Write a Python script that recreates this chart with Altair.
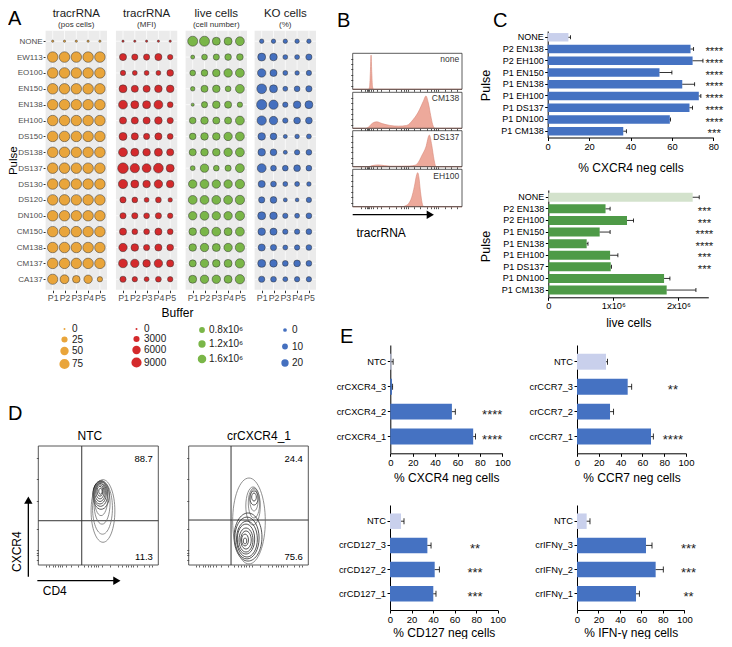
import json
import altair as alt
import pandas as pd

W, H = 716, 631
PAGE_MARGIN = 8
FONT = "Liberation Sans"


def P(v):
    """reference-pixel position -> chart-pixel position (page has an 8px margin)"""
    return v - PAGE_MARGIN


# ============================ DATA ============================
# ---- Panel A : dot plots (rows = pulse, columns = buffer)
PULSES_A = ["NONE", "EW113", "EO100", "EN150", "EN138", "EH100", "DS150", "DS138",
            "DS137", "DS130", "DS120", "DN100", "CM150", "CM138", "CM137", "CA137"]
BUFFERS = ["P1", "P2", "P3", "P4", "P5"]
A_TITLES = ["tracrRNA", "tracrRNA", "live cells", "KO cells"]
A_SUBTITLES = ["(pos cells)", "(MFI)", "(cell number)", "(%)"]

TRACR_POS = [
    [0.7, 0.7, 0.7, 0.7, 0.7],
    [80, 81, 80, 80, 81],
    [80, 80, 81, 80, 80],
    [81, 80, 80, 81, 80],
    [80, 81, 80, 80, 81],
    [80, 80, 80, 81, 80],
    [81, 80, 81, 80, 80],
    [80, 80, 80, 80, 81],
    [81, 81, 80, 80, 80],
    [80, 80, 81, 80, 80],
    [80, 81, 80, 81, 80],
    [81, 80, 80, 80, 81],
    [80, 80, 81, 80, 80],
    [80, 81, 80, 81, 80],
    [81, 80, 80, 80, 80],
    [75, 56, 40, 50, 18],
]
TRACR_MFI = [
    [100, 100, 100, 100, 100],
    [4200, 3100, 3100, 4200, 2200],
    [2200, 1800, 1800, 1800, 3600],
    [5400, 4200, 4200, 4800, 4800],
    [6700, 5400, 5400, 6700, 2600],
    [4200, 4200, 4200, 4800, 3100],
    [5400, 4200, 3100, 4200, 2600],
    [6700, 5400, 4800, 5400, 4200],
    [9800, 7400, 6700, 8200, 5400],
    [7400, 5400, 4800, 6000, 4800],
    [3100, 2600, 1800, 2600, 1400],
    [3100, 3100, 2600, 3100, 2200],
    [4200, 2600, 2600, 4200, 2600],
    [6000, 4800, 3100, 4200, 3600],
    [6700, 6000, 4800, 6000, 4200],
    [3100, 2200, 1800, 2600, 2200],
]
LIVE_CELLS_M = [  # x10^6 cells
    [2.19, 2.19, 1.43, 1.43, 1.74],
    [0.43, 0.79, 0.90, 1.02, 1.02],
    [0.79, 1.02, 1.29, 1.58, 1.74],
    [0.51, 1.15, 1.29, 0.79, 1.74],
    [0.30, 0.90, 1.29, 1.15, 0.69],
    [1.02, 1.29, 1.15, 1.15, 1.74],
    [1.02, 1.29, 1.29, 1.58, 1.74],
    [1.15, 1.29, 1.29, 1.58, 1.74],
    [0.60, 1.58, 0.79, 0.90, 1.74],
    [1.58, 1.74, 1.58, 1.58, 1.91],
    [1.74, 1.74, 1.74, 1.74, 1.91],
    [1.58, 1.74, 1.58, 1.58, 1.91],
    [1.29, 1.74, 1.74, 1.43, 1.74],
    [1.29, 1.58, 1.43, 1.58, 1.91],
    [1.15, 1.58, 1.29, 1.43, 1.91],
    [1.43, 1.58, 1.58, 1.43, 1.91],
]
KO_CELLS = [
    [2.5, 2.5, 2.5, 2.5, 2.5],
    [25, 21.5, 5, 5, 12.5],
    [28.5, 18.5, 5, 3, 7],
    [41, 25, 5, 9.5, 12.5],
    [45.5, 36.5, 7, 21.5, 25],
    [36.5, 28.5, 7, 15.5, 15.5],
    [21.5, 15.5, 1, 3, 5],
    [21.5, 15.5, 1, 7, 9.5],
    [32.5, 9.5, 9.5, 15.5, 9.5],
    [18.5, 9.5, 5, 5, 3],
    [12.5, 15.5, 1, 0, 7],
    [25, 21.5, 7, 5, 9.5],
    [21.5, 18.5, 7, 7, 9.5],
    [18.5, 12.5, 5, 7, 9.5],
    [25, 21.5, 9.5, 15.5, 9.5],
    [12.5, 9.5, 5, 7, 7],
]
LEG_POS = [0, 25, 50, 75]
LEG_MFI = [0, 3000, 6000, 9000]
LEG_LIVE_M = [0.8, 1.2, 1.6]
LEG_KO = [0, 10, 20]

# ---- Panel B : tracrRNA histograms (channel position 0-100, relative count 0-100)
B_SAMPLES = ["none", "CM138", "DS137", "EH100"]
B_CHANNEL = [
    [0, 14.5, 15.5, 16.2, 16.8, 17.4, 18.1, 19, 100],
    [0, 12, 14.3, 18, 22, 27, 34, 42, 49.4, 55.5, 60, 64.6, 67, 69.2, 71.4, 73.2, 75.3, 100],
    [0, 14, 18, 23.4, 29, 35, 45, 52, 57, 60, 63.1, 67, 70.1, 72.3, 74.4, 76.2, 100],
    [0, 46, 48, 51, 54, 56.5, 58.5, 59.5, 60.5, 62, 63.5, 65, 100],
]
B_COUNT = [
    [0, 0, 8, 50, 95, 50, 8, 0, 0],
    [0, 0, 3, 14, 18, 13, 8, 6, 8, 25, 45, 75, 90, 70, 35, 10, 0, 0],
    [0, 0, 3, 5, 3, 1.5, 1.5, 2, 4, 12, 30, 55, 88, 60, 20, 0, 0],
    [0, 0, 2, 8, 25, 55, 85, 91, 80, 40, 10, 0, 0],
]

# ---- Panel C : bar charts
C_PULSES = ["NONE", "P2 EN138", "P2 EH100", "P1 EN150", "P1 EN138",
            "P1 EH100", "P1 DS137", "P1 DN100", "P1 CM138"]
C_KO_MEAN = [10, 69, 70, 54, 65, 73, 68.5, 59, 36.5]
C_KO_SEM = [1, 1.5, 5, 6, 6, 1, 1.5, 0.3, 1.5]
C_KO_SIG = ["", "****", "****", "****", "****", "****", "****", "****", "***"]
C_LIVE_MEAN = [2.22e6, 0.88e6, 1.21e6, 0.79e6, 0.59e6, 0.95e6, 0.96e6, 1.78e6, 1.82e6]
C_LIVE_SEM = [0.1e6, 0.07e6, 0.1e6, 0.16e6, 0.02e6, 0.12e6, 0.01e6, 0.09e6, 0.45e6]
C_LIVE_SIG = ["", "***", "***", "****", "****", "***", "***", "", ""]

# ---- Panel D : flow cytometry contour plots (rings: centre x/y, half-height h)
D_SAMPLES = ["NTC", "crCXCR4_1"]
D_GATE_X = [36.2, 35.4]
D_GATE_Y = [37.2, 37.8]
D_Q_UPPER = ["88.7", "24.4"]
D_Q_LOWER = ["11.3", "75.6"]
D_RING_X = [
    [51.8, 51.4, 51.4, 51.4, 51.4, 51.8, 52.3, 52.3, 53.1, 53.5, 53.9],
    [54.6, 54.6, 54.6, 54.6, 53.8, 47.1, 47.1, 47.9, 47.9, 47.9, 48.7, 48.7, 49.6, 50.4],
]
D_RING_Y = [
    [62.0, 62.0, 61.5, 61.0, 60.5, 59.8, 58.8, 56.3, 52.1, 47.9, 45.4],
    [57.1, 56.3, 54.6, 52.1, 49.6, 20.2, 21.0, 21.0, 21.0, 21.8, 21.8, 22.7, 23.5, 37.0],
]
D_RING_H = [
    [2.5, 4.2, 5.9, 7.6, 9.2, 10.5, 12.0, 14.8, 17.8, 22.0, 26.3],
    [3.4, 5.9, 9.2, 12.6, 16.0, 2.5, 5.0, 7.6, 10.1, 12.6, 15.1, 17.6, 20.2, 36.1],
]
D_RING_FORM = [
    ["core"] * 7 + ["tail"] * 4,
    ["core", "core", "tail", "tail", "tail"] + ["core"] * 8 + ["tail"],
]

# ---- Panel E : knock-out efficiency bar charts
E_GUIDES = [
    ["NTC", "crCXCR4_3", "crCXCR4_2", "crCXCR4_1"],
    ["NTC", "crCCR7_3", "crCCR7_2", "crCCR7_1"],
    ["NTC", "crCD127_3", "crCD127_2", "crCD127_1"],
    ["NTC", "crIFNγ_3", "crIFNγ_2", "crIFNγ_1"],
]
E_MEAN = [[1.0, 1.5, 55, 74], [26.6, 46.5, 30.3, 67.9], [10.2, 34.7, 41.5, 40.2], [9, 64.3, 73.3, 55]]
E_SEM = [[1.5, 0.6, 3, 2.1], [1.3, 3.7, 3.3, 2.1], [2.8, 3.4, 4.3, 2.5], [3.1, 5.6, 7.1, 3.1]]
E_SIG = [["", "", "****", "****"], ["", "**", "", "****"], ["", "**", "***", "***"], ["", "***", "***", "**"]]
E_TITLES = ["% CXCR4 neg cells", "% CCR7 neg cells", "% CD127 neg cells", "% IFN-γ neg cells"]

# ============================ LAYOUT / STYLE ============================
BLUE, LAVENDER = "#4572C2", "#C9D0EC"
GREEN, LIGHTGREEN = "#4E9A47", "#D3E2CC"
A_FILL = ["#E9A53B", "#D42A2C", "#7AB648", "#4570BF"]
A_SIZE_DOMAIN = [[0, 75], [0, 9000], [0.1, 2.4], [0, 50]]
A_SIZE_RANGE = [[4, 104], [4, 104], [0, 110], [14, 113]]
A_LEG_VALUES = [LEG_POS, LEG_MFI, LEG_LIVE_M, LEG_KO]
A_LEG_X = [59, 131, 197, 280]
A_LEG_Y = [324, 324, 325, 325]
A_LEG_ROWPAD = [0.5, 0, 4, 6.5]
A_P1_X = [52.7, 123.0, 192.7, 261.7]
A_STEP = 11.8
A_ROW0, A_ROWSTEP = 41.2, 15.87
A_PADX, A_PADY = 0.6, 0.66
A_AXIS_Y = 290.2

B_X = (352.7, 462.0)
B_BOX_Y = [(53.3, 89.3), (92.3, 128.3), (130.7, 166.7), (169.3, 206.7)]

D_BOX_X = [(38.3, 158.3), (188.7, 308.3)]
D_BOX_Y = (446.0, 565.0)
D_TITLE_X = [43, 58.8]

E_X_PX = [(390.3, 502.3), (577, 686), (390, 497.7), (577, 684.3)]
E_Y_PX = [(345, 453.3), (345, 453.3), (505, 610), (505, 610)]
E_STAR_X = [91, 88, 79, 104]


def ellipse_path(a):
    k = 0.5523
    return (f"M0,-1C{k*a:.3f},-1,{a},-{k},{a},0C{a},{k},{k*a:.3f},1,0,1"
            f"C-{k*a:.3f},1,-{a},{k},-{a},0C-{a},-{k},-{k*a:.3f},-1,0,-1Z")


CORE_PATH = ellipse_path(0.58)
TAIL_PATH = ellipse_path(0.38)


def encoders(xs, ys, xa, ya):
    """x/y encoders that share one scale and one axis definition inside a panel"""
    def ex(field):
        return alt.X(field, scale=xs, axis=xa)

    def ey(field, **kw):
        return alt.Y(field, scale=ys, axis=ya, **kw)
    return ex, ey


def text_layer(df, ex, ey, **mark):
    return alt.Chart(df).mark_text(**mark).encode(x=ex("x:Q"), y=ey("y:Q"), text="t:N")


panels = []

# ============================ PANEL A ============================
nrow, ncol = len(PULSES_A), len(BUFFERS)
a_xdom = [1 - A_PADX, ncol + A_PADX]
a_ydom = [-A_PADY, nrow - 1 + A_PADY]
a_yrng = [P(A_ROW0 - A_PADY * A_ROWSTEP), P(A_ROW0 + (nrow - 1 + A_PADY) * A_ROWSTEP)]
a_values = [TRACR_POS, TRACR_MFI, LIVE_CELLS_M, KO_CELLS]
pulse_lookup = json.dumps(PULSES_A)
buffer_lookup = json.dumps(BUFFERS)

for i in range(4):
    left = A_P1_X[i] - A_PADX * A_STEP
    xs = alt.Scale(domain=a_xdom, range=[P(left), P(A_P1_X[i] + (ncol - 1 + A_PADX) * A_STEP)],
                   nice=False, zero=False)
    ys = alt.Scale(domain=a_ydom, range=a_yrng, nice=False, zero=False)
    xkw = dict(orient="bottom", offset=P(A_AXIS_Y) - H, values=list(range(1, ncol + 1)),
               labelExpr=f"{buffer_lookup}[datum.value - 1]", tickSize=2.5, tickColor="#333333",
               labelColor="#4D4D4D", labelFontSize=8.8, labelPadding=1, domain=False,
               labelOverlap=False, labelFlush=False)
    if i == 1:
        xkw.update(title="Buffer", titleX=P(177), titleY=22.5, titleBaseline="middle",
                   titleAlign="center", titleFontSize=12, titleFontWeight="normal",
                   titleColor="black")
    else:
        xkw.update(title=None)
    xa = alt.Axis(**xkw)
    if i == 0:
        ya = alt.Axis(orient="left", offset=-P(left), values=list(range(nrow)),
                      labelExpr=f"{pulse_lookup}[datum.value]", tickSize=2.5,
                      tickColor="#333333", labelColor="#4D4D4D", labelFontSize=8.0,
                      labelPadding=1, domain=False, labelOverlap=False, labelFlush=False,
                      title="Pulse", titleFontSize=11.5, titleFontWeight="normal",
                      titleColor="black", titleX=P(13) - P(left),
                      titleY=(a_yrng[0] + a_yrng[1]) / 2, titleAlign="center",
                      titleBaseline="middle", titleAngle=270)
    else:
        ya = None
    ex, ey = encoders(xs, ys, xa, ya)

    frame = pd.DataFrame({"x0": [a_xdom[0]], "x1": [a_xdom[1]], "y0": [a_ydom[0]], "y1": [a_ydom[1]]})
    bg = alt.Chart(frame).mark_rect(color="#EBEBEB").encode(
        x=ex("x0:Q"), x2=alt.X2("x1"), y=ey("y0:Q"), y2=alt.Y2("y1"))

    vg = pd.DataFrame({"col": list(range(1, ncol + 1))})
    vg["y0"], vg["y1"] = a_ydom[0], a_ydom[1]
    vgrid = alt.Chart(vg).mark_rule(color="white", strokeWidth=0.7).encode(
        x=ex("col:Q"), y=ey("y0:Q"), y2=alt.Y2("y1"))
    hg = pd.DataFrame({"row": list(range(nrow))})
    hg["x0"], hg["x1"] = a_xdom[0], a_xdom[1]
    hgrid = alt.Chart(hg).mark_rule(color="white", strokeWidth=0.7).encode(
        y=ey("row:Q"), x=ex("x0:Q"), x2=alt.X2("x1"))

    rows = []
    for r, pulse in enumerate(PULSES_A):
        for b, buf in enumerate(BUFFERS):
            rows.append({"pulse": pulse, "row": r, "buffer": buf, "col": b + 1,
                         "value": a_values[i][r][b]})
    df = pd.DataFrame(rows)

    leg_kw = dict(orient="none", legendX=P(A_LEG_X[i]), legendY=P(A_LEG_Y[i]), title=None,
                  values=A_LEG_VALUES[i], symbolType="circle", symbolFillColor=A_FILL[i],
                  symbolStrokeColor="#333333", symbolStrokeWidth=0.5, symbolOpacity=1,
                  labelFontSize=10, labelColor="#1A1A1A", labelOffset=2,
                  rowPadding=A_LEG_ROWPAD[i])
    if i == 2:
        leg_kw["labelExpr"] = "datum.value + 'x10⁶'"
    else:
        leg_kw["format"] = "d"

    dots = alt.Chart(df).mark_circle(opacity=1, stroke="#333333", strokeWidth=0.5).encode(
        x=ex("col:Q"), y=ey("row:Q"),
        size=alt.Size("value:Q", scale=alt.Scale(domain=A_SIZE_DOMAIN[i], range=A_SIZE_RANGE[i]),
                      legend=alt.Legend(**leg_kw)),
        color=alt.value(A_FILL[i]))

    tdf = pd.DataFrame({"t": [A_TITLES[i]], "x": [(1 + ncol) / 2], "y": [-1.72]})
    sdf = pd.DataFrame({"t": [A_SUBTITLES[i]], "x": [(1 + ncol) / 2], "y": [-1.04]})
    layers = [bg, vgrid, hgrid, dots,
              text_layer(tdf, ex, ey, fontSize=11.5, color="#1A1A1A", baseline="middle"),
              text_layer(sdf, ex, ey, fontSize=8, color="#333333", baseline="middle")]
    if i == 0:
        ldf = pd.DataFrame({"t": ["A"], "x": [-2.79], "y": [-1.42]})
        layers.append(text_layer(ldf, ex, ey, fontSize=20, align="left", baseline="middle"))
    panels.append(alt.layer(*layers))

# ============================ PANEL B ============================
for k, name in enumerate(B_SAMPLES):
    top, bottom = B_BOX_Y[k]
    xs = alt.Scale(domain=[0, 100], range=[P(B_X[0]), P(B_X[1])], nice=False, zero=False)
    ys = alt.Scale(domain=[0, 100], range=[P(bottom), P(top)], nice=False, zero=False)
    xa = alt.Axis(orient="bottom", offset=P(bottom) - H, labels=False, domain=False, tickSize=2,
                  tickColor="#555555", title=None,
                  values=[8, 11, 13, 14, 15, 17, 19, 22, 26, 33, 40, 44, 47, 49, 51, 56, 62, 68,
                          72, 74, 76, 78, 84, 90, 95])
    ya = alt.Axis(orient="left", offset=-P(B_X[0]), labels=False, domain=False, tickSize=2,
                  tickColor="#555555", title=None, values=[10, 25, 40, 55, 70, 85])
    ex, ey = encoders(xs, ys, xa, ya)
    curve = pd.DataFrame({"ch": B_CHANNEL[k], "n": B_COUNT[k]})
    area = alt.Chart(curve).mark_area(interpolate="monotone", color="#EDA99B", stroke="#D9897A",
                                      strokeWidth=0.6, opacity=1).encode(x=ex("ch:Q"), y=ey("n:Q"))
    fr = pd.DataFrame({"x0": [0], "x1": [100], "y0": [0], "y1": [100]})
    box = alt.Chart(fr).mark_rect(fillOpacity=0, stroke="#333333", strokeWidth=0.8).encode(
        x=ex("x0:Q"), x2=alt.X2("x1"), y=ey("y0:Q"), y2=alt.Y2("y1"))
    lab = text_layer(pd.DataFrame({"t": [name], "x": [97.5], "y": [94]}), ex, ey,
                     fontSize=8.5, color="#333333", align="right", baseline="top")
    layers = [area, box, lab]
    if k == 0:
        letters = pd.DataFrame({"t": ["B", "C"], "x": [-14.4, 128.4], "y": [191, 191]})
        layers.append(text_layer(letters, ex, ey, fontSize=20, align="left", baseline="middle"))
    if k == len(B_SAMPLES) - 1:
        arr = pd.DataFrame({"x0": [0], "x1": [68], "y": [-21.4]})
        layers.append(alt.Chart(arr).mark_rule(color="black", strokeWidth=1.3).encode(
            x=ex("x0:Q"), x2=alt.X2("x1"), y=ey("y:Q")))
        head = pd.DataFrame({"x": [71], "y": [-21.4]})
        layers.append(alt.Chart(head).mark_point(shape="triangle-right", filled=True, size=70,
                                                 color="black", opacity=1).encode(
            x=ex("x:Q"), y=ey("y:Q")))
        tl = pd.DataFrame({"t": ["tracrRNA"], "x": [3.5], "y": [-70]})
        layers.append(text_layer(tl, ex, ey, fontSize=12, align="left", baseline="middle"))
    panels.append(alt.layer(*layers))


# ============================ BAR CHART HELPER (C, E) ============================
def bar_panel(cats, vals, errs, sigs, control, x_px, y_px, x_dom, pad_in, pad_out, dark, light,
              x_values, x_title, title_dy, star_x, label_fs, tick_fs, title_fs, star_fs,
              x_label_expr=None, y_title=None, y_title_px=None, cap=5):
    df = pd.DataFrame({"cat": cats, "val": vals, "err": errs, "sig": sigs})
    df["hi"] = df["val"] + df["err"]
    df["sx"] = star_x
    xs = alt.Scale(domain=x_dom, range=[P(x_px[0]), P(x_px[1])], nice=False, zero=False)
    ys = alt.Scale(type="band", domain=cats, range=[P(y_px[0]), P(y_px[1])],
                   paddingInner=pad_in, paddingOuter=pad_out)
    xkw = dict(orient="bottom", offset=P(y_px[1]) - H, values=x_values, tickSize=3,
               labelFontSize=tick_fs, labelPadding=1.5, labelColor="black", tickColor="black",
               domainColor="black", labelFlush=False, labelOverlap=False,
               title=x_title, titleFontSize=title_fs, titleFontWeight="normal", titleColor="black",
               titleX=(P(x_px[0]) + P(x_px[1])) / 2, titleY=title_dy, titleAlign="center",
               titleBaseline="middle")
    if x_label_expr:
        xkw["labelExpr"] = x_label_expr
    ykw = dict(orient="left", offset=-P(x_px[0]), tickSize=3, labelFontSize=label_fs,
               labelPadding=1.5, labelColor="black", tickColor="black", domainColor="black")
    if y_title:
        ykw.update(title=y_title, titleFontSize=12.5, titleFontWeight="normal", titleColor="black",
                   titleX=y_title_px[0] - x_px[0], titleY=P(y_title_px[1]), titleAngle=270,
                   titleAlign="center", titleBaseline="middle")
    else:
        ykw.update(title=None)
    xa, ya = alt.Axis(**xkw), alt.Axis(**ykw)
    ex, ey = encoders(xs, ys, xa, ya)
    bars = alt.Chart(df).mark_bar().encode(
        x=ex("val:Q"), y=ey("cat:N", sort=cats),
        color=alt.condition(f"datum.cat == '{control}'", alt.value(light), alt.value(dark)))
    err = alt.Chart(df).mark_rule(color="black", strokeWidth=0.8).encode(
        x=ex("val:Q"), x2=alt.X2("hi"), y=ey("cat:N", sort=cats))
    caps = alt.Chart(df).mark_tick(color="black", thickness=0.8, size=cap, opacity=1).encode(
        x=ex("hi:Q"), y=ey("cat:N", sort=cats))
    stars = alt.Chart(df[df["sig"] != ""]).mark_text(fontSize=star_fs, baseline="middle", dy=3.2,
                                                      color="#222222").encode(
        x=ex("sx:Q"), y=ey("cat:N", sort=cats), text="sig:N")
    return alt.layer(bars, err, caps, stars)


# ============================ PANEL C ============================
panels.append(bar_panel(C_PULSES, C_KO_MEAN, C_KO_SEM, C_KO_SIG, "NONE",
                        (547.7, 713.3), (31, 137.5), [0, 80], 0.28, 0.175, BLUE, LAVENDER,
                        [0, 20, 40, 60, 80], "% CXCR4 neg cells", 29.5, 80.5, 9, 9.3, 12, 11.5,
                        y_title="Pulse", y_title_px=(485, 85), cap=4))
panels.append(bar_panel(C_PULSES, C_LIVE_MEAN, C_LIVE_SEM, C_LIVE_SIG, "NONE",
                        (548.3, 708.3), (190, 297.3), [0, 2.46e6], 0.22, 0.235, GREEN, LIGHTGREEN,
                        [0, 1e6, 2e6], "live cells", 25, 2.4e6, 9, 9.3, 12, 11.5,
                        x_label_expr="datum.value == 0 ? '0' : format(datum.value / 1e6, 'd') + 'x10⁶'",
                        y_title="Pulse", y_title_px=(485, 246), cap=4))

# ============================ PANEL D ============================
d_h = D_BOX_Y[1] - D_BOX_Y[0]
for k, name in enumerate(D_SAMPLES):
    x0, x1 = D_BOX_X[k]
    xs = alt.Scale(domain=[0, 100], range=[P(x0), P(x1)], nice=False, zero=False)
    ys = alt.Scale(domain=[0, 100], range=[P(D_BOX_Y[1]), P(D_BOX_Y[0])], nice=False, zero=False)
    xa = alt.Axis(orient="bottom", offset=P(D_BOX_Y[1]) - H, labels=False, domain=False, tickSize=2,
                  tickColor="#666666", title=None,
                  values=[6, 9, 12, 14, 16, 18, 20, 23, 27, 33, 38, 41, 44, 46, 48, 50, 53, 60, 66,
                          70, 73, 75, 77, 79, 82, 88, 92, 95])
    ya = alt.Axis(orient="left", offset=-P(x0), labels=False, domain=False, tickSize=2,
                  tickColor="#666666", title=None, values=[4, 8, 10, 13, 30, 54, 72, 90])
    ex, ey = encoders(xs, ys, xa, ya)
    fr = pd.DataFrame({"x0": [0], "x1": [100], "y0": [0], "y1": [100]})
    box = alt.Chart(fr).mark_rect(fillOpacity=0, stroke="#444444", strokeWidth=0.9).encode(
        x=ex("x0:Q"), x2=alt.X2("x1"), y=ey("y0:Q"), y2=alt.Y2("y1"))
    gx = pd.DataFrame({"g": [D_GATE_X[k]], "lo": [0], "hi": [100]})
    gy = pd.DataFrame({"g": [D_GATE_Y[k]], "lo": [0], "hi": [100]})
    vgate = alt.Chart(gx).mark_rule(color="#333333", strokeWidth=1).encode(
        x=ex("g:Q"), y=ey("lo:Q"), y2=alt.Y2("hi"))
    hgate = alt.Chart(gy).mark_rule(color="#333333", strokeWidth=1).encode(
        y=ey("g:Q"), x=ex("lo:Q"), x2=alt.X2("hi"))
    rings = pd.DataFrame({"x": D_RING_X[k], "y": D_RING_Y[k], "h": D_RING_H[k], "form": D_RING_FORM[k]})
    cont = alt.Chart(rings).mark_point(filled=False, opacity=1, strokeWidth=0.75).encode(
        x=ex("x:Q"), y=ey("y:Q"),
        size=alt.Size("h:Q", scale=alt.Scale(type="pow", exponent=2, domain=[0, 100],
                                             range=[0, 4 * d_h * d_h]), legend=None),
        shape=alt.Shape("form:N", scale=alt.Scale(domain=["core", "tail"], range=[CORE_PATH, TAIL_PATH]),
                        legend=None),
        color=alt.Color("form:N", scale=alt.Scale(domain=["core", "tail"], range=["#1E1E1E", "#6A6A6A"]),
                        legend=None))
    qdf = pd.DataFrame({"t": [D_Q_UPPER[k], D_Q_LOWER[k]], "x": [95.5, 95.5], "y": [88.8, 6.5]})
    layers = [box, vgate, hgate, cont,
              text_layer(qdf, ex, ey, fontSize=9.5, align="right", baseline="middle"),
              text_layer(pd.DataFrame({"t": [name], "x": [D_TITLE_X[k]], "y": [108.4]}), ex, ey,
                         fontSize=12, baseline="middle")]
    if k == 0:
        va = pd.DataFrame({"x": [-8.3], "y0": [-9.8], "y1": [52]})
        layers.append(alt.Chart(va).mark_rule(color="black", strokeWidth=1.3).encode(
            x=ex("x:Q"), y=ey("y0:Q"), y2=alt.Y2("y1")))
        layers.append(alt.Chart(pd.DataFrame({"x": [-8.3], "y": [54.5]})).mark_point(
            shape="triangle-up", filled=True, size=70, color="black", opacity=1).encode(
            x=ex("x:Q"), y=ey("y:Q")))
        ha = pd.DataFrame({"y": [-13.2], "x0": [-0.8], "x1": [63]})
        layers.append(alt.Chart(ha).mark_rule(color="black", strokeWidth=1.3).encode(
            y=ey("y:Q"), x=ex("x0:Q"), x2=alt.X2("x1")))
        layers.append(alt.Chart(pd.DataFrame({"x": [65.5], "y": [-13.2]})).mark_point(
            shape="triangle-right", filled=True, size=70, color="black", opacity=1).encode(
            x=ex("x:Q"), y=ey("y:Q")))
        layers.append(text_layer(pd.DataFrame({"t": ["CXCR4"], "x": [-18], "y": [11.2]}), ex, ey,
                                 fontSize=12, angle=270, baseline="middle"))
        layers.append(text_layer(pd.DataFrame({"t": ["CD4"], "x": [3.7], "y": [-21.6]}), ex, ey,
                                 fontSize=12, align="left", baseline="middle"))
        layers.append(text_layer(pd.DataFrame({"t": ["D"], "x": [-25.3], "y": [127.3]}), ex, ey,
                                 fontSize=20, align="left", baseline="middle"))
    else:
        layers.append(text_layer(pd.DataFrame({"t": ["E"], "x": [126.5], "y": [192]}), ex, ey,
                                 fontSize=20, align="left", baseline="middle"))
    panels.append(alt.layer(*layers))

# ============================ PANEL E ============================
for j in range(4):
    panels.append(bar_panel(E_GUIDES[j], E_MEAN[j], E_SEM[j], E_SIG[j], "NTC",
                            E_X_PX[j], E_Y_PX[j], [0, 100], 0.36, 0.35, BLUE, LAVENDER,
                            [0, 20, 40, 60, 80, 100], E_TITLES[j], 24.5 if j < 2 else 22.5,
                            E_STAR_X[j], 9.3, 9.5, 12, 13, cap=6))

chart = alt.layer(*panels).resolve_scale(
    x="independent", y="independent", size="independent"
).resolve_legend(size="independent").properties(
    width=W, height=H, padding=0, autosize=alt.AutoSizeParams(type="none")
).configure(font=FONT).configure_view(stroke=None).configure_axis(grid=False)

chart.save("out.html", embed_options={"renderer": "svg", "actions": False})
